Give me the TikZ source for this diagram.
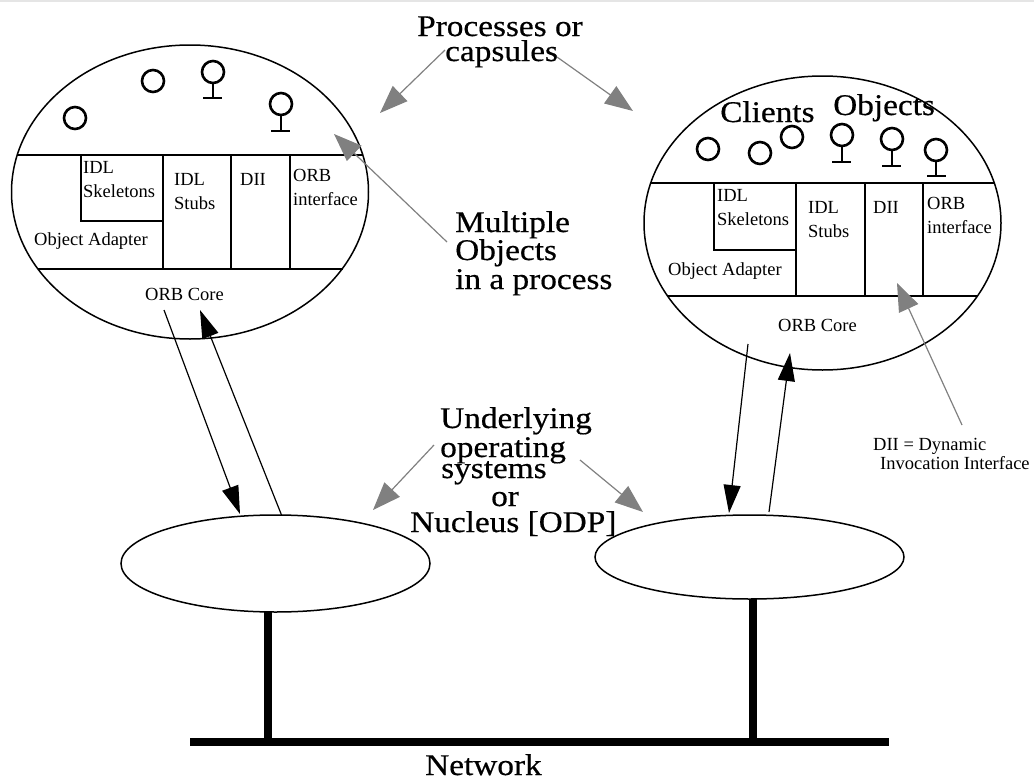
\documentclass[tikz,border=0pt]{standalone}
\usepackage{fontspec}
\setmainfont{Liberation Serif}
\newfontfamily\bigserif[FakeStretch=1.11,FakeBold=0.5]{Liberation Serif}
\usetikzlibrary{arrows.meta,shapes.geometric}
\tikzset{
    biglabel/.style={font=\bigserif\fontsize{30}{31}\selectfont, anchor=base west, inner sep=0pt},
    smalllabel/.style={font=\fontsize{18.5}{20}\selectfont, anchor=base west, inner sep=0pt},
    capsule/.style={draw, ellipse, line width=1.5pt, inner sep=0pt, minimum width=357pt, minimum height=294pt},
    nucleus/.style={draw, ellipse, line width=1.5pt, inner sep=0pt, minimum width=309pt},
    wall/.style={line width=1.5pt},
    bubble/.style={line width=2.6pt},
    callarrow/.style={-{Triangle[length=28pt,width=17pt]}, line width=1.2pt},
    notearrow/.style={-{Triangle[length=28pt,width=21pt]}, line width=1.2pt, gray},
    netline/.style={line width=8pt},
    stemline/.style={line width=7.5pt}
}
\begin{document}
\begin{tikzpicture}[x=1pt,y=-1pt]
    \useasboundingbox (0,0) rectangle (1034,779);
    \fill[gray!20] (0,0) rectangle (1034,1.5);

    % process capsules and operating systems
    \node[capsule] (capl) at (190,192) {};
    \node[capsule] (capr) at (822.5,223) {};
    \node[nucleus, minimum height=97pt] (nucl) at (275.5,563.5) {};
    \node[nucleus, minimum height=84pt] (nucr) at (749.5,557) {};

    % left capsule, layers
    \draw[wall] (17,155) -- (363,155);
    \draw[wall] (38,269) -- (343,269);
    \draw[wall] (81,155) |- (163,221);
    \draw[wall] (163,155) -- (163,269);
    \draw[wall] (231,155) -- (231,269);
    \draw[wall] (290,155) -- (290,269);

    % right capsule, layers
    \draw[wall] (651,183) -- (994,183);
    \draw[wall] (668,296) -- (977,296);
    \draw[wall] (714,183) |- (796,250);
    \draw[wall] (796,183) -- (796,296);
    \draw[wall] (865,183) -- (865,296);
    \draw[wall] (923,183) -- (923,296);

    % left capsule, clients
    \draw[bubble] (75,118) circle (11);
    \draw[bubble] (153,81) circle (11);
    % left capsule, objects
    \draw[bubble] (213,72) circle (11);
    \draw[bubble] (213,83) -- (213,98) (203,98) -- (222,98);
    \draw[bubble] (281,104) circle (11);
    \draw[bubble] (281,115) -- (281,131) (271,131) -- (290,131);

    % right capsule, clients
    \draw[bubble] (708,149) circle (11);
    \draw[bubble] (760,153) circle (11);
    \draw[bubble] (792,137) circle (11);
    % right capsule, objects
    \draw[bubble] (842,135) circle (11);
    \draw[bubble] (842,146) -- (842,162) (832,162) -- (851,162);
    \draw[bubble] (892,139) circle (11);
    \draw[bubble] (892,150) -- (892,166) (882,166) -- (901,166);
    \draw[bubble] (936,150) circle (11);
    \draw[bubble] (936,161) -- (936,176) (927,176) -- (946,176);

    % left capsule, labels
    \node[smalllabel] (idlskl) at (83,173) {IDL};
    \node[smalllabel] (skell) at (83,197) {Skeletons};
    \node[smalllabel] (idlstl) at (174,185) {IDL};
    \node[smalllabel] (stubl) at (174,209) {Stubs};
    \node[smalllabel] (diil) at (240,185) {DII};
    \node[smalllabel] (orbl) at (293,181) {ORB};
    \node[smalllabel] (ifacel) at (293,205) {interface};
    \node[smalllabel] (adaptl) at (34,245) {Object Adapter};
    \node[smalllabel] (corel) at (145,300) {ORB Core};

    % right capsule, labels
    \node[smalllabel] (idlskr) at (717,201) {IDL};
    \node[smalllabel] (skelr) at (717,225) {Skeletons};
    \node[smalllabel] (idlstr) at (808,213) {IDL};
    \node[smalllabel] (stubr) at (808,237) {Stubs};
    \node[smalllabel] (diir) at (873,213) {DII};
    \node[smalllabel] (orbr) at (927,209) {ORB};
    \node[smalllabel] (ifacer) at (927,233) {interface};
    \node[smalllabel] (adaptr) at (668,275) {Object Adapter};
    \node[smalllabel] (corer) at (778,331) {ORB Core};
    \node[biglabel] (clients) at (720,122) {Clients};
    \node[biglabel] (objects) at (833,115) {Objects};

    % remarks
    \node[biglabel] (proca) at (417,36) {Processes or};
    \node[biglabel] (procb) at (445,61) {capsules};
    \node[biglabel] (multa) at (455,232) {Multiple};
    \node[biglabel] (multb) at (455,260) {Objects};
    \node[biglabel] (multc) at (455,289) {in a process};
    \node[biglabel] (unda) at (440,428) {Underlying};
    \node[biglabel] (undb) at (440,457) {operating};
    \node[biglabel] (undc) at (441,478) {systems};
    \node[biglabel] (undd) at (491,506) {or};
    \node[biglabel] (unde) at (410,532) {Nucleus [ODP]};
    \node[biglabel] (network) at (425,775) {Network};
    \node[smalllabel] (diia) at (873,450) {DII = Dynamic};
    \node[smalllabel] (diib) at (880,469) {Invocation Interface};

    % calls between capsules and operating systems
    \coordinate (lcallt) at (164,310);
    \coordinate (lcallb) at (240,514);
    \coordinate (lrett) at (200,310);
    \coordinate (lretb) at (281.5,515);
    \coordinate (rcallt) at (748,344);
    \coordinate (rcallb) at (729,513);
    \coordinate (rrett) at (790,353);
    \coordinate (rretb) at (769,512);
    \draw[callarrow] (lcallt) -- (lcallb);
    \draw[callarrow] (lretb) -- (lrett);
    \draw[callarrow] (rcallt) -- (rcallb);
    \draw[callarrow] (rretb) -- (rrett);

    % gray pointers from the remarks
    \coordinate (procl) at (380,113);
    \coordinate (procr) at (633,111);
    \coordinate (multp) at (334,134);
    \coordinate (diip) at (897,283);
    \coordinate (undl) at (373,510);
    \coordinate (undr) at (643,512);
    \draw[notearrow] (445,50) -- (procl);
    \draw[notearrow] (557,57) -- (procr);
    \draw[notearrow] (447,242) -- (multp);
    \draw[notearrow] (962,425) -- (diip);
    \draw[notearrow] (434,445) -- (undl);
    \draw[notearrow] (580,460) -- (undr);

    % network
    \coordinate (netw) at (190,742);
    \coordinate (nete) at (889,742);
    \draw[netline] (netw) -- (nete);
    \draw[stemline] (268,612) -- (268,742);
    \draw[stemline] (753,599) -- (753,742);

\end{tikzpicture}
\end{document}
